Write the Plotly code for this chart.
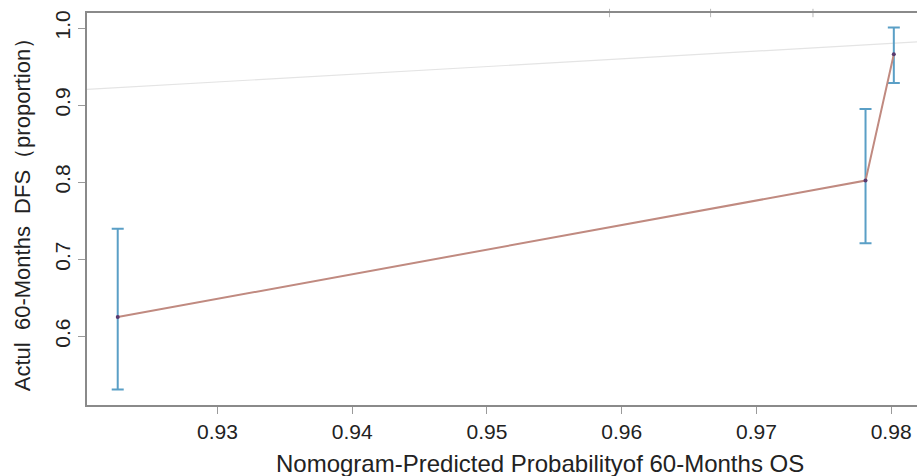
import plotly.graph_objects as go

# Data
pred = [0.9226, 0.9781, 0.9802]
actual = [0.625, 0.802, 0.966]
upper = [0.7395, 0.8948, 1.0008]
lower = [0.531, 0.7208, 0.9286]
ideal = [0.918, 0.985]
rug = [0.9591, 0.9666, 0.9742]

x_ticks = [0.93, 0.94, 0.95, 0.96, 0.97, 0.98]
y_ticks = [0.6, 0.7, 0.8, 0.9, 1.0]

x_title = "Nomogram-Predicted Probabilityof 60-Months OS"
y_title = "Actul  60-Months  DFS（proportion）"

err_plus = [u - a for u, a in zip(upper, actual)]
err_minus = [a - l for a, l in zip(actual, lower)]

fig = go.Figure()
fig.add_trace(go.Scatter(x=ideal, y=ideal, mode="lines",
                         line=dict(color="#e4e4e4", width=1.2),
                         hoverinfo="skip", showlegend=False))
fig.add_trace(go.Scatter(
    x=pred, y=actual, mode="lines+markers",
    line=dict(color="#c08a80", width=2),
    marker=dict(color="#5b3a6e", size=4),
    error_y=dict(type="data", array=err_plus, arrayminus=err_minus,
                 color="#5a9fc6", thickness=2, width=6, symmetric=False),
    showlegend=False))
fig.add_trace(go.Scatter(x=rug, y=[1.0195] * len(rug), mode="markers",
                         marker=dict(symbol="line-ns", size=6,
                                     line=dict(color="#b8b8b8", width=1)),
                         hoverinfo="skip", showlegend=False, cliponaxis=False))

fig.update_layout(
    width=917, height=476,
    margin=dict(l=87, r=0, t=13, b=71),
    paper_bgcolor="white", plot_bgcolor="white",
    font=dict(family="Liberation Sans, Arial, sans-serif", color="#222222"),
    xaxis=dict(range=[0.92032, 0.98192], tickvals=x_ticks,
               ticktext=[f"{v:.2f}" for v in x_ticks],
               showgrid=False, zeroline=False,
               showline=True, linecolor="#8a8a8a", linewidth=1.5, mirror=True,
               ticks="outside", ticklen=7, tickcolor="#9a9a9a", tickwidth=1.2,
               tickfont=dict(size=21)),
    yaxis=dict(range=[0.5108, 1.0195], tickvals=y_ticks,
               ticktext=[f"{v:.1f}" for v in y_ticks],
               showgrid=False, zeroline=False,
               showline=True, linecolor="#8a8a8a", linewidth=1.5,
               ticks="outside", ticklen=7, tickcolor="#9a9a9a", tickwidth=1.2,
               tickangle=-90, tickfont=dict(size=21),
               title=dict(text=y_title, font=dict(size=22), standoff=14)),
    annotations=[dict(text=x_title, xref="paper", yref="paper",
                      x=0.5458, y=-0.149, xanchor="center", yanchor="middle",
                      showarrow=False, font=dict(size=24, color="#222222"))],
)

fig.write_html("out.html", config={"displayModeBar": False},
               post_script="document.body.style.margin='0';document.body.style.overflow='hidden';")
